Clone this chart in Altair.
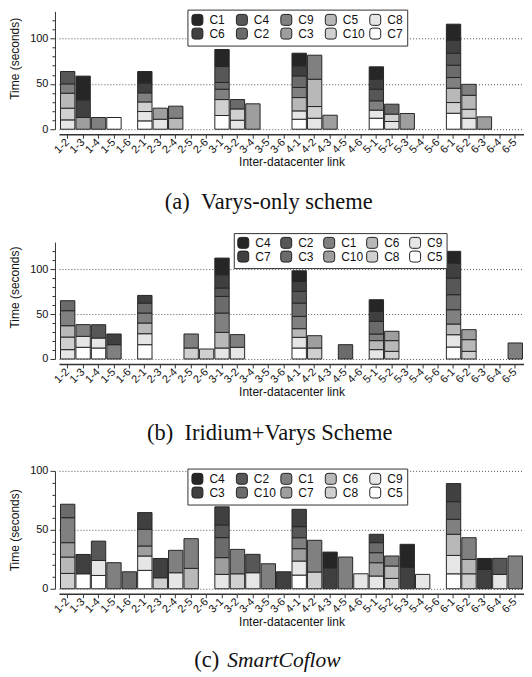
import altair as alt
import pandas as pd

links = ["1-2", "1-3", "1-4", "1-5", "1-6", "2-1", "2-3", "2-4", "2-5", "2-6",
         "3-1", "3-2", "3-4", "3-5", "3-6", "4-1", "4-2", "4-3", "4-5", "4-6",
         "5-1", "5-2", "5-3", "5-4", "5-6", "6-1", "6-2", "6-3", "6-4", "6-5"]

# grey shades, darkest -> lightest
shades = ["#262626", "#404040", "#575757", "#6b6b6b", "#808080",
          "#9e9e9e", "#b8b8b8", "#d0d0d0", "#e6e6e6", "#ffffff"]

# ---------------- (a) Varys-only scheme ----------------
a_legend = ["C1", "C4", "C9", "C5", "C8", "C6", "C2", "C3", "C10", "C7"]
a_shade = ["C1", "C6", "C4", "C2", "C9", "C3", "C5", "C10", "C8", "C7"]
a_link = ["1-2"] * 5 + ["1-3"] * 3 + ["1-4", "1-5"] + ["2-1"] * 6 + ["2-3"] * 2 + ["2-4"] * 2 \
    + ["3-1"] * 6 + ["3-2"] * 3 + ["3-4"] + ["4-1"] * 7 + ["4-2"] * 4 + ["4-3"] \
    + ["5-1"] * 6 + ["5-2"] * 3 + ["5-3"] + ["6-1"] * 8 + ["6-2"] * 4 + ["6-3"]
a_coflow = ["C8", "C10", "C5", "C9", "C4", "C3", "C6", "C1", "C9", "C7",
            "C7", "C8", "C10", "C9", "C6", "C1", "C8", "C3", "C5", "C9",
            "C7", "C10", "C9", "C2", "C4", "C1", "C8", "C10", "C2", "C3",
            "C7", "C8", "C5", "C9", "C2", "C6", "C1", "C8", "C10", "C5", "C9", "C3",
            "C7", "C8", "C9", "C4", "C6", "C1", "C8", "C10", "C2", "C3",
            "C7", "C10", "C5", "C9", "C2", "C4", "C6", "C1", "C8", "C10", "C5", "C9", "C3"]
a_value = [10.3, 12.9, 16.5, 10.3, 13.6, 12.9, 19.5, 26.1, 12.9, 12.9,
           9.2, 10.3, 10.6, 10.0, 11.0, 12.5, 11.0, 12.2, 12.1, 13.3,
           15.1, 17.6, 11.4, 7.4, 17.6, 18.8, 9.9, 12.5, 10.3, 28.0,
           11.0, 9.2, 14.7, 11.1, 12.8, 11.1, 13.9, 12.1, 12.9, 30.1, 26.5, 15.4,
           12.1, 8.9, 10.3, 12.8, 11.0, 13.7, 8.5, 8.1, 11.0, 17.3,
           17.6, 11.8, 15.8, 11.8, 13.6, 13.2, 14.4, 17.6, 12.1, 9.9, 15.4, 12.1, 13.6]

# ---------------- (b) Iridium+Varys scheme ----------------
b_legend = ["C4", "C2", "C1", "C6", "C9", "C7", "C3", "C10", "C8", "C5"]
b_shade = ["C4", "C7", "C2", "C3", "C1", "C10", "C6", "C8", "C9", "C5"]
b_link = ["1-2"] * 5 + ["1-3"] * 3 + ["1-4"] * 3 + ["1-5"] * 2 + ["2-1"] * 6 \
    + ["2-5"] * 2 + ["2-6"] + ["3-1"] * 7 + ["3-2"] * 2 + ["4-1"] * 8 + ["4-2"] * 2 \
    + ["4-5"] + ["5-1"] * 6 + ["5-2"] * 3 + ["6-1"] * 8 + ["6-2"] * 3 + ["6-5"]
b_coflow = ["C9", "C8", "C6", "C1", "C3", "C5", "C9", "C1", "C5", "C9", "C2",
            "C1", "C7", "C5", "C9", "C6", "C1", "C3", "C7", "C8", "C1", "C8",
            "C9", "C6", "C1", "C3", "C2", "C7", "C4", "C9", "C1",
            "C5", "C9", "C6", "C1", "C3", "C2", "C7", "C4", "C8", "C10", "C3",
            "C9", "C6", "C1", "C3", "C7", "C4", "C8", "C6", "C10",
            "C5", "C9", "C6", "C1", "C3", "C2", "C7", "C4", "C8", "C6", "C10", "C1"]
b_value = [10.4, 14.0, 12.6, 16.7, 11.1, 13.0, 12.2, 13.0, 12.2, 11.1, 14.8,
           15.9, 11.9, 15.9, 12.2, 11.9, 11.1, 11.1, 8.5, 12.2, 15.6, 11.1,
           12.2, 17.4, 21.5, 18.5, 9.3, 14.8, 18.5, 13.0, 14.1,
           12.2, 11.9, 9.6, 13.7, 14.8, 13.0, 11.1, 11.8, 12.2, 13.7, 15.9,
           10.4, 10.0, 7.4, 14.1, 11.1, 12.9, 8.5, 11.9, 10.4,
           13.3, 13.7, 11.9, 15.9, 16.7, 18.5, 16.7, 13.0, 8.5, 13.0, 11.1, 17.8]

# ---------------- (c) SmartCoflow ----------------
c_legend = ["C4", "C2", "C1", "C6", "C9", "C3", "C10", "C7", "C8", "C5"]
c_shade = ["C4", "C3", "C2", "C10", "C1", "C7", "C6", "C8", "C9", "C5"]
c_link = ["1-2"] * 5 + ["1-3"] * 2 + ["1-4"] * 3 + ["1-5", "1-6"] + ["2-1"] * 5 \
    + ["2-3"] * 2 + ["2-4"] * 2 + ["2-5"] * 2 + ["3-1"] * 5 + ["3-2"] * 2 + ["3-4"] * 2 \
    + ["3-5", "3-6"] + ["4-1"] * 6 + ["4-2"] * 2 + ["4-3"] * 2 + ["4-5", "4-6"] \
    + ["5-1"] * 5 + ["5-2"] * 3 + ["5-3"] * 2 + ["5-4"] + ["6-1"] * 6 + ["6-2"] * 3 \
    + ["6-3"] * 2 + ["6-4"] * 2 + ["6-5"]
c_coflow = ["C8", "C6", "C7", "C1", "C10", "C5", "C3", "C5", "C9", "C2", "C1", "C10",
            "C5", "C9", "C7", "C1", "C3", "C8", "C3", "C9", "C1", "C6", "C1",
            "C9", "C7", "C10", "C2", "C3", "C8", "C1", "C9", "C2", "C1", "C3",
            "C5", "C9", "C7", "C1", "C2", "C3", "C8", "C1", "C3", "C4", "C1", "C9",
            "C9", "C7", "C1", "C10", "C3", "C8", "C6", "C1", "C3", "C4", "C9",
            "C5", "C9", "C6", "C1", "C2", "C3", "C8", "C6", "C1",
            "C3", "C4", "C9", "C2", "C1"]
c_value = [13.0, 13.9, 12.2, 21.2, 11.4, 12.7, 16.4, 11.3, 12.7, 16.4, 22.1, 14.4,
           15.6, 12.2, 8.5, 14.1, 14.2, 9.3, 16.4, 13.6, 19.0, 17.3, 25.2,
           12.2, 14.2, 17.0, 10.8, 15.3, 12.7, 20.7, 13.6, 15.6, 21.2, 14.4,
           11.6, 11.9, 10.5, 9.3, 9.4, 14.7, 14.2, 26.9, 17.8, 13.3, 26.9, 12.7,
           10.8, 11.3, 8.5, 8.5, 7.1, 8.8, 10.5, 8.5, 18.4, 19.3, 12.2,
           12.7, 15.6, 17.9, 12.7, 15.0, 15.3, 12.7, 12.2, 18.4,
           16.4, 9.3, 12.2, 13.6, 27.8]

ROUNDED = ("M-1,-0.5 Q-1,-1 -0.5,-1 L0.5,-1 Q1,-1 1,-0.5 L1,0.5 Q1,1 0.5,1 "
           "L-0.5,1 Q-1,1 -1,0.5 Z")
SANS = "Liberation Sans"
SERIF = "Liberation Serif"
W = 465.5
MAJOR = "datum.value % 50 === 0"


def panel(link, coflow, value, legend_order, shade_order, ymax, tick_max, height,
          lx, ly, col_pad, leg_pad, captions, frame_top, frame_bottom, title_y=None):
    df = pd.DataFrame({"link": link, "coflow": coflow, "value": value})
    df["stack"] = [-shade_order.index(c) for c in coflow]
    rng = [shades[shade_order.index(c)] for c in legend_order]

    ykw = dict(
        title="Time (seconds)", values=list(range(0, tick_max + 1, 10)),
        labelExpr=f"{MAJOR} ? datum.label : ''", labelOverlap=False,
        labelFontSize={"condition": {"test": MAJOR, "value": 11}, "value": 0},
        tickSize={"condition": {"test": MAJOR, "value": 5}, "value": 3},
        gridOpacity={"condition": {"test": MAJOR, "value": 1}, "value": 0},
        grid=True, gridDash=[1, 2], gridColor="#555", gridWidth=1,
        offset=4, domainColor="#333", tickColor="#333", labelPadding=2,
        titlePadding=8,
    )
    if title_y is not None:
        ykw["titleY"] = title_y
    yaxis = alt.Axis(**ykw)

    xaxis = alt.Axis(
        title="Inter-datacenter link", labelAngle=-45, labelAlign="right",
        labelBaseline="middle", tickSize=4, offset=5, domainColor="#333",
        domainWidth=1.5, tickColor="#333", grid=False, labelPadding=2,
        titlePadding=2,
    )

    leg = alt.Legend(
        title=None, orient="none", legendX=lx, legendY=ly, columns=5,
        direction="horizontal", gridAlign="all", zindex=2,
        symbolType=ROUNDED, symbolSize=120, symbolStrokeColor="#222",
        symbolStrokeWidth=1, symbolOpacity=1,
        labelFont=SANS, labelFontSize=12, labelColor="#111", labelOffset=6,
        columnPadding=col_pad, rowPadding=-6, padding=leg_pad,
        strokeColor="#333", fillColor="white",
    )

    bars = alt.Chart(df).mark_bar(stroke="#262626", strokeWidth=1).encode(
        x=alt.X("link:N", sort=links,
                scale=alt.Scale(domain=links, paddingInner=0.07, paddingOuter=0.1),
                axis=xaxis),
        y=alt.Y("value:Q", stack="zero",
                scale=alt.Scale(domain=[0, ymax], nice=False), axis=yaxis),
        color=alt.Color("coflow:N",
                        scale=alt.Scale(domain=legend_order, range=rng),
                        legend=leg),
        order=alt.Order("stack:Q", sort="ascending"),
    )

    layers = [bars]
    for text, x, y, style, align, size in captions:
        layers.append(
            alt.Chart(pd.DataFrame({"t": [text]})).mark_text(
                font=SERIF, fontSize=size, fontStyle=style, align=align,
                baseline="alphabetic", color="#111"
            ).encode(x=alt.value(x), y=alt.value(y), text="t:N")
        )
    # invisible vertical frame that fixes the panel's layout extent
    layers.append(
        alt.Chart(pd.DataFrame({"f": [0]})).mark_rule(
            opacity=0, strokeWidth=1
        ).encode(x=alt.value(1), y=alt.value(frame_top), y2=alt.value(frame_bottom))
    )
    return alt.layer(*layers).properties(width=W, height=height)


pa = panel(a_link, a_coflow, a_value, a_legend, a_shade, 130, 120, 118, 128.6, -1.7,
           1.5, 4,
           [("(a)\u00a0\u00a0Varys-only scheme", 210, 198.3, "normal", "center", 22.5)],
           frame_top=-1.5, frame_bottom=220.2, title_y=47)
pb = panel(b_link, b_coflow, b_value, b_legend, b_shade, 130, 120, 117, 175, -9,
           0, 3.5,
           [("(b)\u00a0\u00a0Iridium+Varys Scheme", 211, 197.6, "normal", "center", 22.5)],
           frame_top=-9.5, frame_bottom=222.8, title_y=45)
pc = panel(c_link, c_coflow, c_value, c_legend, c_shade, 100, 100, 118, 128.6, -2.3,
           1.5, 4,
           [("(c)", 135.5, 196.7, "normal", "left", 22.5),
            ("SmartCoflow", 168.5, 196.7, "italic", "left", 21.5)],
           frame_top=-6, frame_bottom=199)

chart = alt.vconcat(pa, pb, pc, spacing=0).resolve_scale(
    color="independent", x="independent", y="independent"
).resolve_legend(color="independent").properties(padding=0).configure_view(
    stroke=None
).configure_axis(
    labelFont=SANS, titleFont=SANS, labelFontSize=11, titleFontSize=12,
    titleFontWeight="normal", labelColor="#111", titleColor="#111"
)

chart.save("out.html", embed_options={"renderer": "svg", "actions": False})
